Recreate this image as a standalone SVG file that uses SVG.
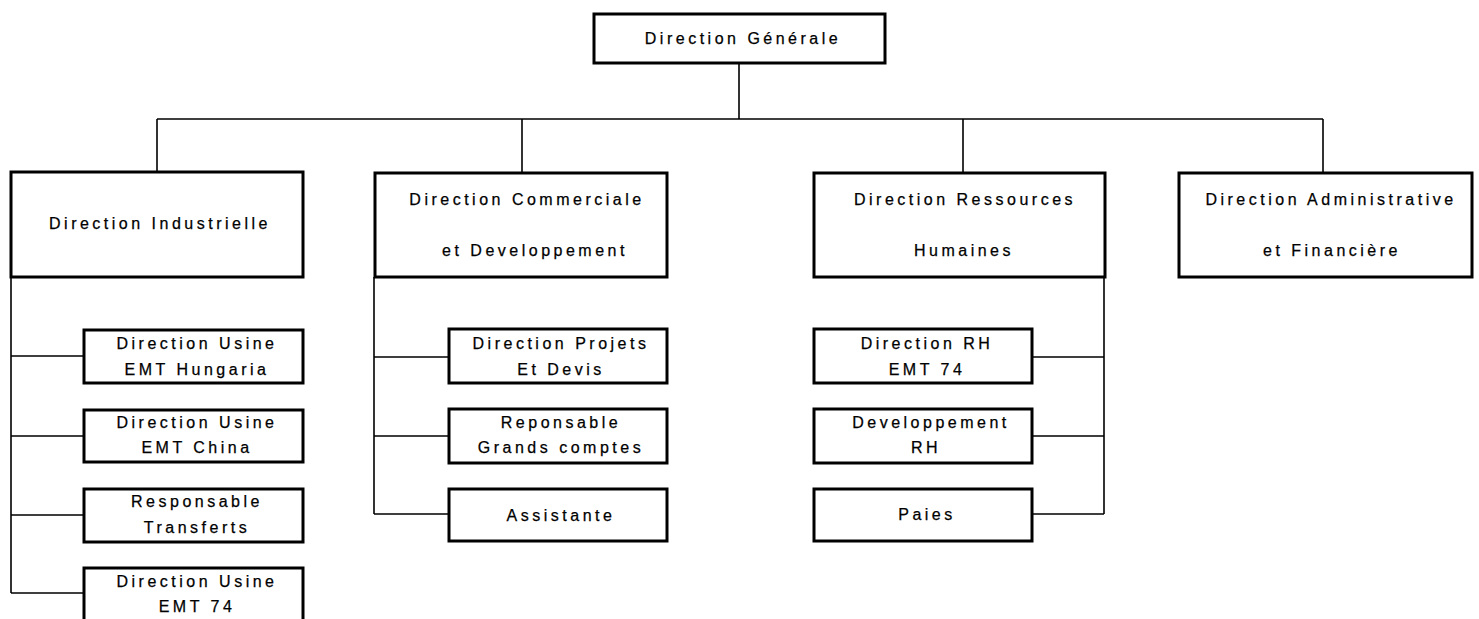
<svg xmlns="http://www.w3.org/2000/svg" width="1479" height="619" viewBox="0 0 1479 619">
<style>
.box{fill:#fff;stroke:#000;stroke-width:3}
.ln{fill:none;stroke:#000;stroke-width:1.6}
text{font-family:"Liberation Sans",Arial,sans-serif;font-size:16px;letter-spacing:3.5px;text-anchor:middle;fill:#000;stroke:#000;stroke-width:0.25}
</style>
<rect width="1479" height="619" fill="#fff"/>
<g id="connectors">
<path class="ln" d="M739 63V119M157 119H1323M157 119V172M522 119V172M963 119V172M1323 119V172"/>
<path class="ln" d="M11 277V593M11 356H83M11 436H83M11 515H83M11 593H83"/>
<path class="ln" d="M374 277V514M374 357H448M374 436H448M374 514H448"/>
<path class="ln" d="M1104 277V514M1104 357H1032M1104 436H1032M1104 514H1032"/>
</g>
<g id="dg"><rect class="box" x="594" y="14" width="291" height="49"/><text x="743" y="44">Direction Générale</text></g>
<g id="di"><rect class="box" x="11" y="172" width="292" height="105"/><text x="160" y="229">Direction Industrielle</text></g>
<g id="dc"><rect class="box" x="375" y="173" width="292" height="104"/><text x="527" y="205">Direction Commerciale</text><text x="535" y="256">et Developpement</text></g>
<g id="drh"><rect class="box" x="814" y="173" width="291" height="104"/><text x="965" y="205">Direction Ressources</text><text x="964" y="256">Humaines</text></g>
<g id="daf"><rect class="box" x="1179" y="173" width="293" height="104"/><text x="1331" y="205">Direction Administrative</text><text x="1332" y="256">et Financière</text></g>
<g id="du1"><rect class="box" x="84" y="330" width="219" height="53"/><text x="197" y="349">Direction Usine</text><text x="197" y="375">EMT Hungaria</text></g>
<g id="du2"><rect class="box" x="84" y="410" width="219" height="52"/><text x="197" y="428">Direction Usine</text><text x="197" y="453">EMT China</text></g>
<g id="rt"><rect class="box" x="84" y="489" width="219" height="53"/><text x="197" y="507">Responsable</text><text x="197" y="533">Transferts</text></g>
<g id="du3"><rect class="box" x="84" y="568" width="219" height="60"/><text x="197" y="587">Direction Usine</text><text x="197" y="612">EMT 74</text></g>
<g id="dp"><rect class="box" x="449" y="329" width="218" height="54"/><text x="561" y="349">Direction Projets</text><text x="561" y="375">Et Devis</text></g>
<g id="rg"><rect class="box" x="449" y="409" width="218" height="54"/><text x="561" y="428">Reponsable</text><text x="561" y="453">Grands comptes</text></g>
<g id="as"><rect class="box" x="449" y="489" width="218" height="52"/><text x="561" y="521">Assistante</text></g>
<g id="drh74"><rect class="box" x="814" y="329" width="218" height="54"/><text x="927" y="349">Direction RH</text><text x="927" y="375">EMT 74</text></g>
<g id="devrh"><rect class="box" x="814" y="409" width="218" height="54"/><text x="931" y="428">Developpement</text><text x="926" y="453">RH</text></g>
<g id="paies"><rect class="box" x="814" y="489" width="218" height="52"/><text x="927" y="520">Paies</text></g>
</svg>
